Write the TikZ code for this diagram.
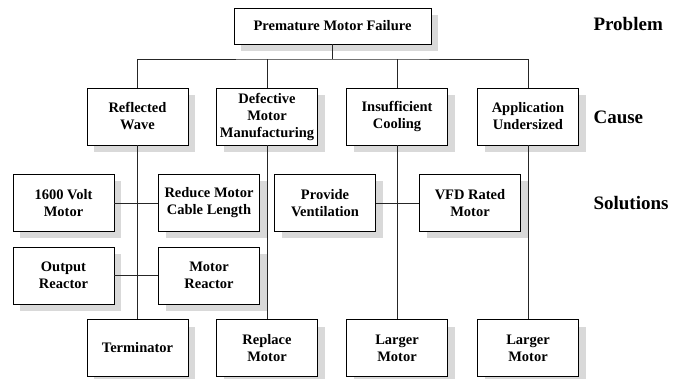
\documentclass[tikz,border=0pt]{standalone}
\usepackage{fontspec}
\setmainfont{Liberation Serif}
\usetikzlibrary{shadows}

\begin{document}
\begin{tikzpicture}[x=1pt, y=-1pt,
		box/.style={draw=black, fill=white, line width=0.8pt,
			minimum width=101pt, minimum height=57pt, inner sep=2pt, align=center,
			font=\bfseries\fontsize{14.5}{17}\selectfont,
			general shadow={fill=gray!30, shadow xshift=7pt, shadow yshift=-7pt}},
		tag/.style={anchor=west, font=\bfseries\fontsize{19}{22}\selectfont},
		link/.style={draw=black!85, line width=0.8pt}]
	
	% page size
	\useasboundingbox (0,0) rectangle (682,379);
	
	% --- Problem ---
	\node[box, minimum width=197pt, minimum height=36pt] (failure) at (332.5,26) {Premature Motor Failure};
	
	% --- Causes ---
	\node[box] (wave) at (137.5,116.5) {Reflected\\Wave};
	\node[box] (defective) at (267,116.5) {Defective\\Motor\\Manufacturing};
	\node[box] (cooling) at (397,116.5) {Insufficient\\Cooling};
	\node[box] (undersized) at (528,116.5) {Application\\Undersized};
	
	% --- Solutions ---
	\node[box] (volt) at (63.5,203) {1600 Volt\\Motor};
	\node[box] (cable) at (209,203) {Reduce Motor\\Cable Length};
	\node[box] (output) at (63.5,275.5) {Output\\Reactor};
	\node[box] (reactor) at (209,275.5) {Motor\\Reactor};
	\node[box] (vent) at (325,203) {Provide\\Ventilation};
	\node[box] (vfd) at (470,203) {VFD Rated\\Motor};
	\node[box] (terminator) at (137.5,348) {Terminator};
	\node[box] (replace) at (267,348) {Replace\\Motor};
	\node[box] (largerA) at (397,348) {Larger\\Motor};
	\node[box] (largerB) at (528,348) {Larger\\Motor};
	
	% --- Row labels ---
	\node[tag] (problem) at (590,24) {Problem};
	\node[tag] (cause) at (590,117) {Cause};
	\node[tag] (solutions) at (590,203) {Solutions};
	
	% --- Tree lines ---
	\coordinate (bus) at (332.5,59);
	\draw[link] (failure.south) -- (bus);
	\draw[link] (wave.north) |- (bus) -| (undersized.north);
	\foreach \c in {defective, cooling}
		\draw[link] (\c.north) -- (\c.north |- bus);
	
	\foreach \a/\b in {wave/terminator, defective/replace, cooling/largerA, undersized/largerB}
		\draw[link] (\a.south) -- (\b.north);
	
	% side branches
	\draw[link] (volt.east) -- (cable.west);
	\draw[link] (output.east) -- (reactor.west);
	\draw[link] (vent.east) -- (vfd.west);
	
\end{tikzpicture}
\end{document}
